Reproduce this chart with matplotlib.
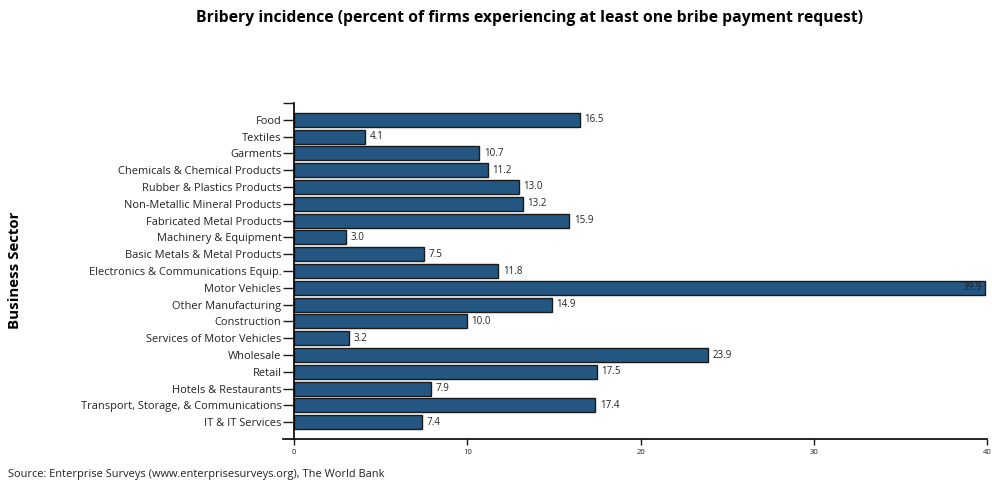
import matplotlib
matplotlib.use("Agg")
import matplotlib.pyplot as plt

sectors = [
    "Food", "Textiles", "Garments", "Chemicals & Chemical Products",
    "Rubber & Plastics Products", "Non-Metallic Mineral Products",
    "Fabricated Metal Products", "Machinery & Equipment",
    "Basic Metals & Metal Products", "Electronics & Communications Equip.",
    "Motor Vehicles", "Other Manufacturing", "Construction",
    "Services of Motor Vehicles", "Wholesale", "Retail",
    "Hotels & Restaurants", "Transport, Storage, & Communications",
    "IT & IT Services",
]
bribery = [16.5, 4.1, 10.7, 11.2, 13.0, 13.2, 15.9, 3.0, 7.5, 11.8,
           39.9, 14.9, 10.0, 3.2, 23.9, 17.5, 7.9, 17.4, 7.4]
xticks = [0, 10, 20, 30, 40]

plt.rcParams['font.family'] = ['Open Sans', 'DejaVu Sans']

W, H = 992, 483
fig = plt.figure(figsize=(W / 100, H / 100), dpi=100, facecolor="w")
ax = fig.add_axes([283 / W, (H - 439) / H, (987 - 283) / W, (439 - 103) / H])

pos = list(range(len(sectors)))
ax.barh(pos, bribery, height=0.83, color="#235681", edgecolor="#1a1a1a",
        linewidth=1.0, zorder=2)

xmax = xticks[-1]
for y, v in zip(pos, bribery):
    if v > xmax - 2:
        ax.text(v - 0.2, y, f"{v:.1f}", ha="right", va="center",
                fontsize=7.0, color="#222222")
    else:
        ax.text(v + 0.25, y, f"{v:.1f}", ha="left", va="center",
                fontsize=7.0, color="#222222")

ax.set_xlim(-11 / 17.325, xmax)
ax.set_ylim(len(sectors), -1)
ax.set_xticks(xticks)
ax.set_xticklabels([str(t) for t in xticks])
ax.set_yticks(pos)
ax.set_yticklabels(sectors)
ax.set_yticks([-1], minor=True)

for s in ("top", "right"):
    ax.spines[s].set_visible(False)
ax.spines["left"].set_position(("data", 0))
ax.spines["left"].set_linewidth(1.2)
ax.spines["bottom"].set_linewidth(1.2)
ax.tick_params(axis="y", which="both", length=8, width=1.0, pad=1,
               colors="#1a1a1a", labelcolor="#222222", labelsize=7.9)
ax.tick_params(axis="x", length=4.5, width=1.0, pad=3, colors="#1a1a1a",
               labelcolor="#222222", labelsize=5.5)

fig.text(15 / W, 1 - 270 / H, "Business Sector", rotation=90, fontsize=10.8,
         fontweight="bold", ha="center", va="center")
fig.text(529 / W, 1 - 18 / H,
         "Bribery incidence (percent of firms experiencing at least one bribe payment request)",
         fontsize=11.3, fontweight="bold", ha="center", va="center")
fig.text(8 / W, 1 - 474 / H,
         "Source: Enterprise Surveys (www.enterprisesurveys.org), The World Bank",
         fontsize=7.9, ha="left", va="center", color="#222222")

fig.savefig("out.png", dpi=100, facecolor="w")
